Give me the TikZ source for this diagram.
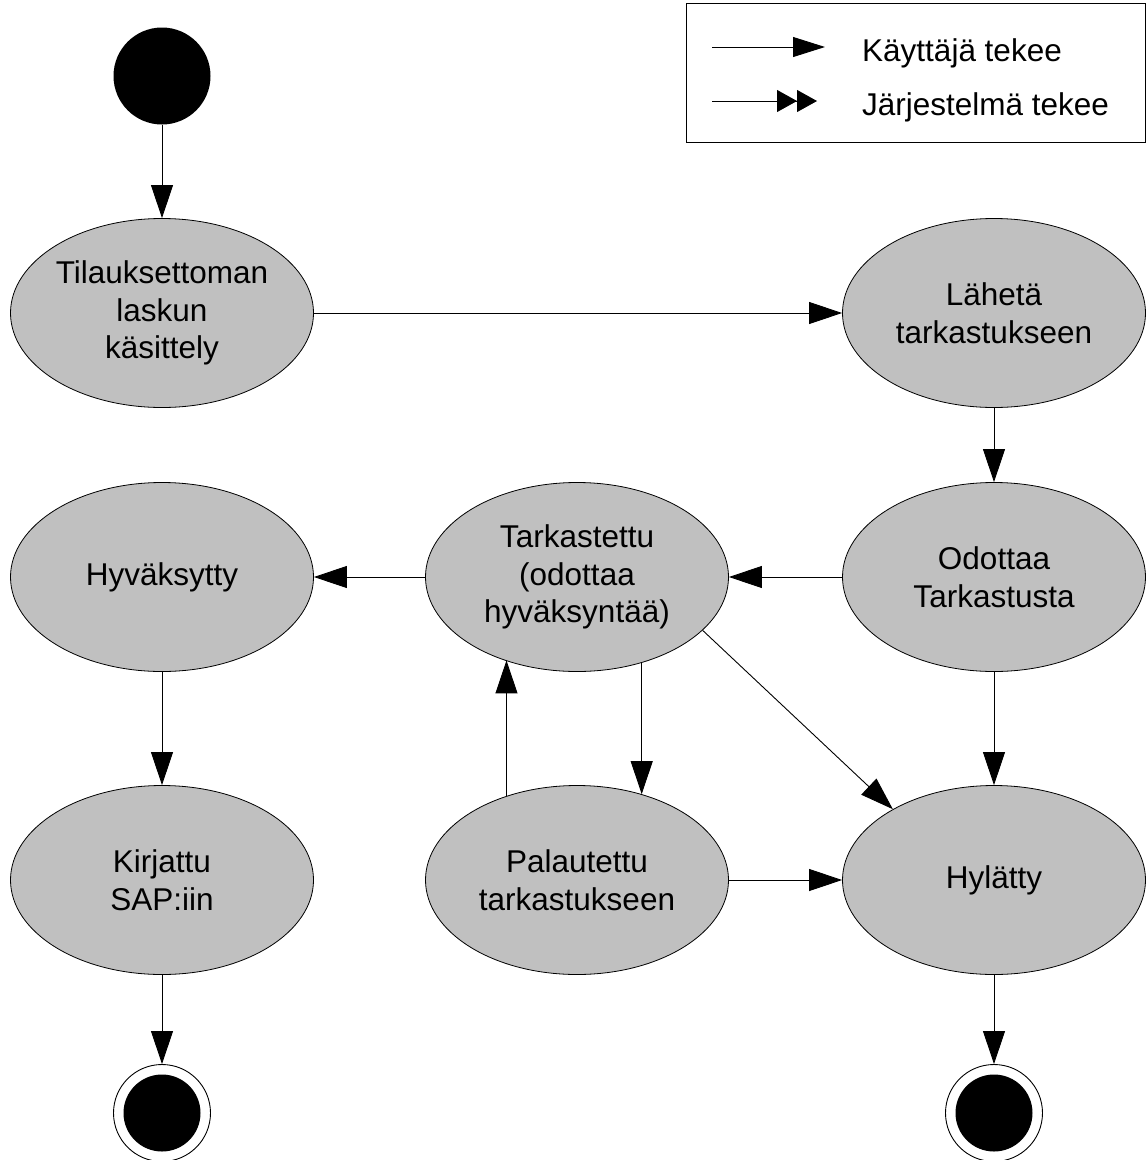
\documentclass[tikz,border=0pt]{standalone}
\usepackage{fontspec}
\setmainfont{Liberation Sans}
\usetikzlibrary{shapes.geometric,arrows.meta}
\definecolor{statefill}{RGB}{192,192,192}
\tikzset{
  statebox/.style={ellipse, draw=black, line width=0.8pt, fill=statefill,
    minimum width=303pt, minimum height=189pt, inner sep=0pt, align=center,
    font=\fontsize{31.5}{37.5}\selectfont},
  flow/.style={draw=black, line width=0.9pt, -{Triangle[length=33pt,width=22pt]}},
  legendflow/.style={draw=black, line width=0.9pt, -{Triangle[length=32pt,width=20pt]}},
  sysflow/.style={draw=black, line width=0.9pt,
    -{Triangle[length=20pt,width=22pt]Triangle[length=20pt,width=22pt]}},
  startstate/.style={circle, fill=black, minimum size=97pt, inner sep=0pt},
  endstate/.style={circle, draw=black, fill=white, line width=0.9pt,
    minimum size=97pt, inner sep=0pt,
    path picture={\fill[black] (path picture bounding box.center) circle (38.5pt);}},
  legendtext/.style={anchor=base west, inner sep=0pt, font=\fontsize{31.5}{37.5}\selectfont},
}
\begin{document}
\begin{tikzpicture}[x=1pt, y=-1pt]
\useasboundingbox (0,0) rectangle (1148,1160);

% legend
\node[draw=black, line width=0.8pt, minimum width=459pt, minimum height=139pt,
      inner sep=0pt, anchor=north west] (legend) at (686,3) {};
\coordinate (ua) at (712,47);
\coordinate (ub) at (825,47);
\coordinate (sa) at (712,101);
\coordinate (sb) at (817,101);
\draw[legendflow] (ua) -- (ub);
\draw[sysflow] (sa) -- (sb);
\node[legendtext] (ulabel) at (862,61) {Käyttäjä tekee};
\node[legendtext] (slabel) at (862,115) {Järjestelmä tekee};

% states
\node[startstate] (start) at (162,76) {};
\node[statebox] (tilaus) at (162,313) {Tilauksettoman\\laskun\\käsittely};
\node[statebox] (laheta) at (994,313) {Lähetä\\tarkastukseen};
\node[statebox] (odottaa) at (994,577) {Odottaa\\Tarkastusta};
\node[statebox] (tark) at (577,577) {Tarkastettu\\(odottaa\\hyväksyntää)};
\node[statebox] (hyv) at (162,577) {Hyväksytty};
\node[statebox] (kirj) at (162,880) {Kirjattu\\SAP:iin};
\node[statebox] (pal) at (577,880) {Palautettu\\tarkastukseen};
\node[statebox] (hyl) at (994,880) {Hylätty};
\node[endstate] (end1) at (162,1113) {};
\node[endstate] (end2) at (994,1113) {};

% transitions
\draw[flow] (start.south) -- (tilaus.north);
\draw[flow] (tilaus.east) -- (laheta.west);
\draw[flow] (laheta.south) -- (odottaa.north);
\draw[flow] (odottaa.west) -- (tark.east);
\draw[flow] (tark.west) -- (hyv.east);
\draw[flow] (hyv.south) -- (kirj.north);
\draw[flow] (kirj.south) -- (end1.north);
\draw[flow] (pal.130.5) -- (pal.130.5 |- tark.229.5);
\draw[flow] (tark.-53) -- (tark.-53 |- pal.53);
\draw[flow] (tark.-23.75) -- (hyl.145.9);
\draw[flow] (pal.east) -- (hyl.west);
\draw[flow] (odottaa.south) -- (hyl.north);
\draw[flow] (hyl.south) -- (end2.north);
\end{tikzpicture}
\end{document}
